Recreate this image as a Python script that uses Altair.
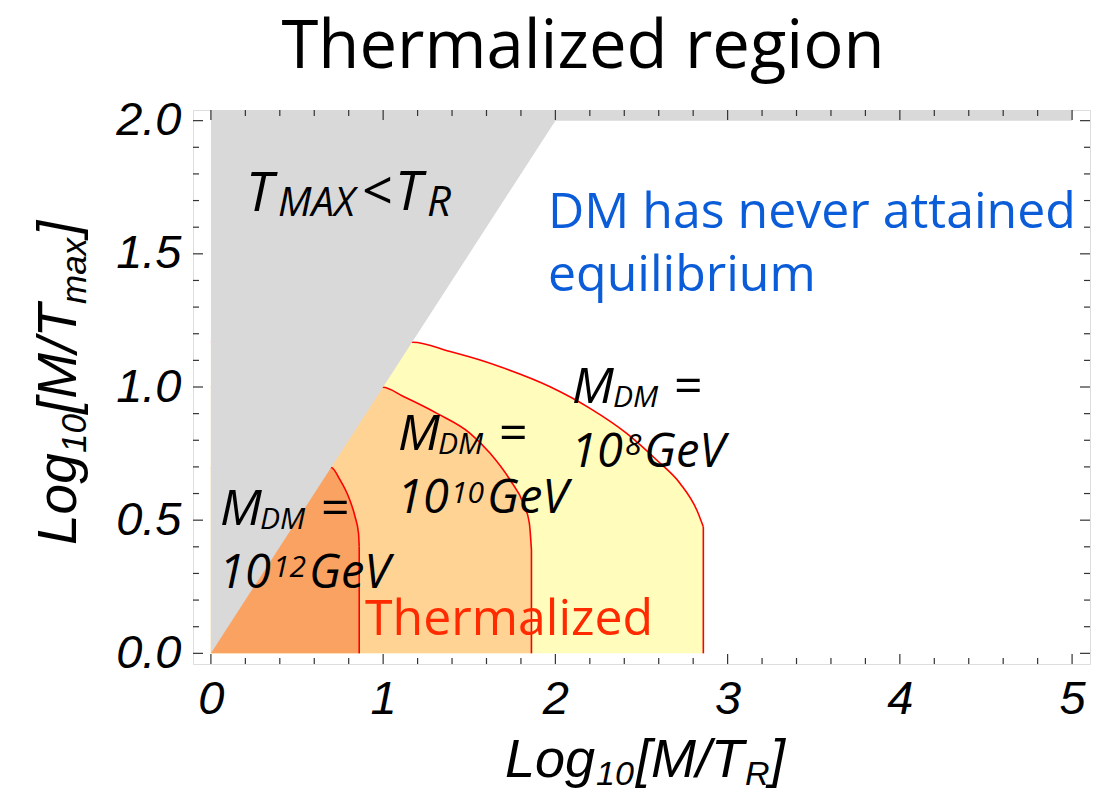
import altair as alt
import pandas as pd

# ---------------- data ----------------
# boundary curves (x = Log10[M/T_R], y = Log10[M/T_max])
c8_x = [0.0, 1.172, 1.389, 1.563, 1.679, 1.969, 2.201, 2.414, 2.588, 2.724, 2.821, 2.859]
c8_y = [1.168, 1.168, 1.133, 1.101, 1.076, 1.001, 0.920, 0.826, 0.726, 0.638, 0.538, 0.475]
c10_x = [0.0, 0.998, 1.118, 1.312, 1.505, 1.621, 1.737, 1.814, 1.849, 1.861]
c10_y = [0.999, 0.999, 0.964, 0.901, 0.826, 0.751, 0.651, 0.563, 0.488, 0.388]
c12_x = [0.0, 0.698, 0.750, 0.799, 0.837, 0.857, 0.861]
c12_y = [0.698, 0.698, 0.651, 0.588, 0.513, 0.451, 0.400]

# excluded region T_MAX < T_R (above the diagonal)
gray_x = [0.0, 2.0, 5.0]
gray_lo = [0.0, 2.0, 2.0]
gray_hi = 2.04

# ticks
x_major = [0, 1, 2, 3, 4, 5]
x_minor = [0.2, 0.4, 0.6, 0.8, 1.2, 1.4, 1.6, 1.8, 2.2, 2.4, 2.6, 2.8,
           3.2, 3.4, 3.6, 3.8, 4.2, 4.4, 4.6, 4.8]
y_major = [0.0, 0.5, 1.0, 1.5, 2.0]
y_minor = [0.1, 0.2, 0.3, 0.4, 0.6, 0.7, 0.8, 0.9, 1.1, 1.2, 1.3, 1.4,
           1.6, 1.7, 1.8, 1.9]

# ---------------- layout ----------------
W, H = 897, 554
PAD_L, PAD_T = 185, 102
OX, OY = 8 + PAD_L, 8 + PAD_T   # page offset of plot origin

xs = alt.Scale(domain=[-0.104, 5.104], nice=False, zero=False)
ys = alt.Scale(domain=[-0.040, 2.040], nice=False, zero=False)

C8, C10, C12 = "#FFFCBC", "#FFD394", "#FAA262"
GRAY = "#D9D9D9"
RED = "#FF0000"


def curve_df(xv, yv):
    return pd.DataFrame({"x": xv, "y": yv, "i": list(range(len(xv)))})


def area_layer(xv, yv, color, with_axes=False):
    df = curve_df(xv, yv)
    if with_axes:
        xax = alt.Axis(values=x_major, format="d", labelFont="Liberation Sans",
                       labelFontStyle="italic", labelFontSize=47, labelColor="black",
                       labelPadding=12, ticks=False, domain=False, grid=False,
                       title=None, labelFlush=False, labelOverlap=False)
        yax = alt.Axis(values=y_major, format=".1f", labelFont="Liberation Sans",
                       labelFontStyle="italic", labelFontSize=47, labelColor="black",
                       labelPadding=12, ticks=False, domain=False, grid=False,
                       title=None, labelFlush=False, labelOverlap=False)
    else:
        xax = None
        yax = None
    return alt.Chart(df).mark_area(color=color, interpolate="monotone", opacity=1).encode(
        x=alt.X("x:Q", scale=xs, axis=xax),
        y=alt.Y("y:Q", scale=ys, axis=yax),
        y2=alt.datum(0),
    )


def line_layer(xv, yv):
    df = curve_df(xv, yv)
    ln = alt.Chart(df).mark_line(color=RED, strokeWidth=1.6, interpolate="monotone").encode(
        x=alt.X("x:Q", scale=xs, axis=None),
        y=alt.Y("y:Q", scale=ys, axis=None),
        order="i:Q",
    )
    end = pd.DataFrame({"x": [xv[-1]], "y": [yv[-1]]})
    vr = alt.Chart(end).mark_rule(color=RED, strokeWidth=1.6).encode(
        x=alt.X("x:Q", scale=xs, axis=None),
        y=alt.Y("y:Q", scale=ys, axis=None),
        y2=alt.datum(0),
    )
    return ln + vr


gray_df = pd.DataFrame({"x": gray_x, "lo": gray_lo, "hi": [gray_hi] * len(gray_x)})
gray = alt.Chart(gray_df).mark_area(color=GRAY, opacity=1).encode(
    x=alt.X("x:Q", scale=xs, axis=None),
    y=alt.Y("lo:Q", scale=ys, axis=None),
    y2="hi:Q",
)


def xticks(vals, length):
    df = pd.DataFrame({"v": vals})
    bot = alt.Chart(df).mark_rule(color="#333333", strokeWidth=1.2).encode(
        x=alt.X("v:Q", scale=xs, axis=None), y=alt.value(H), y2=alt.value(H - length))
    top = alt.Chart(df).mark_rule(color="#333333", strokeWidth=1.2).encode(
        x=alt.X("v:Q", scale=xs, axis=None), y=alt.value(0), y2=alt.value(length))
    return bot + top


def yticks(vals, length):
    df = pd.DataFrame({"v": vals})
    lft = alt.Chart(df).mark_rule(color="#333333", strokeWidth=1.2).encode(
        y=alt.Y("v:Q", scale=ys, axis=None), x=alt.value(0), x2=alt.value(length))
    rgt = alt.Chart(df).mark_rule(color="#333333", strokeWidth=1.2).encode(
        y=alt.Y("v:Q", scale=ys, axis=None), x=alt.value(W), x2=alt.value(W - length))
    return lft + rgt


def text_layer(rows, font, style, color, align="left", angle=0):
    df = pd.DataFrame(rows, columns=["t", "px", "py", "fs"])
    df["px"] = df["px"] - OX
    df["py"] = df["py"] - OY
    return alt.Chart(df).mark_text(font=font, fontStyle=style, color=color, align=align,
                                   baseline="alphabetic", angle=angle).encode(
        x=alt.X("px:Q", scale=None),
        y=alt.Y("py:Q", scale=None),
        text="t:N",
        size=alt.Size("fs:Q", scale=None, legend=None),
    )


# annotation pieces: (text, page-x, page-baseline, font size)
italic_labels = [
    ("T", 246, 211, 54), ("MAX", 278, 216, 40), ("<", 361, 210, 54),
    ("T", 395, 210, 54), ("R", 427, 216, 42),
    ("M", 572, 403, 50), ("DM", 613, 407, 30), ("=", 673, 403, 50),
    ("10", 571, 467, 47), ("8", 625, 455, 30), ("GeV", 644, 467, 47),
    ("M", 398, 450, 50), ("DM", 438, 454, 30), ("=", 498, 450, 50),
    ("10", 397, 513, 47), ("10", 451, 503, 30), ("GeV", 487, 513, 47),
    ("M", 220, 525, 50), ("DM", 260, 529, 30), ("=", 320, 525, 50),
    ("10", 219, 588, 47), ("12", 273, 577, 30), ("GeV", 309, 588, 47),
]
blue_labels = [("DM has never attained", 548, 228, 50), ("equilibrium", 548, 291, 50)]
red_labels = [("Thermalized", 365, 635, 50)]
title_rows = [("Thermalized region", 583, 68, 67)]
xtitle_rows = [("Log", 505, 777, 54), ("10", 596, 785, 34), ("[M/T", 636, 777, 54),
               ("R", 745, 785, 34), ("]", 770, 777, 54)]
ytitle_main = [("Log", 76, 545, 55), ("[M/T", 76, 414, 55), ("]", 76, 236, 55)]
ytitle_sub = [("10", 86, 453, 35), ("max", 86, 304, 35)]

chart = alt.layer(
    area_layer(c8_x, c8_y, C8, with_axes=True),
    area_layer(c10_x, c10_y, C10),
    area_layer(c12_x, c12_y, C12),
    line_layer(c8_x, c8_y),
    line_layer(c10_x, c10_y),
    line_layer(c12_x, c12_y),
    gray,
    xticks(x_major, 10), xticks(x_minor, 6),
    yticks(y_major, 10), yticks(y_minor, 6),
    text_layer(italic_labels, "Open Sans", "italic", "black"),
    text_layer(blue_labels, "Open Sans", "normal", "#0B5CD8"),
    text_layer(red_labels, "Open Sans", "normal", "#FF2A00"),
    text_layer(title_rows, "Open Sans", "normal", "black", align="center"),
    text_layer(xtitle_rows, "Liberation Sans", "italic", "black"),
    text_layer(ytitle_main, "Liberation Sans", "italic", "black", angle=270),
    text_layer(ytitle_sub, "Liberation Sans", "italic", "black", angle=270),
).resolve_scale(
    x="independent", y="independent", size="independent"
).properties(
    width=W, height=H,
    autosize=alt.AutoSizeParams(type="none"),
    padding={"left": PAD_L, "top": PAD_T, "right": 5, "bottom": 128},
).configure_view(
    stroke="#555555", strokeWidth=1.5
).configure(background="white")

chart.save("out.html", embed_options={"renderer": "svg", "actions": False})
